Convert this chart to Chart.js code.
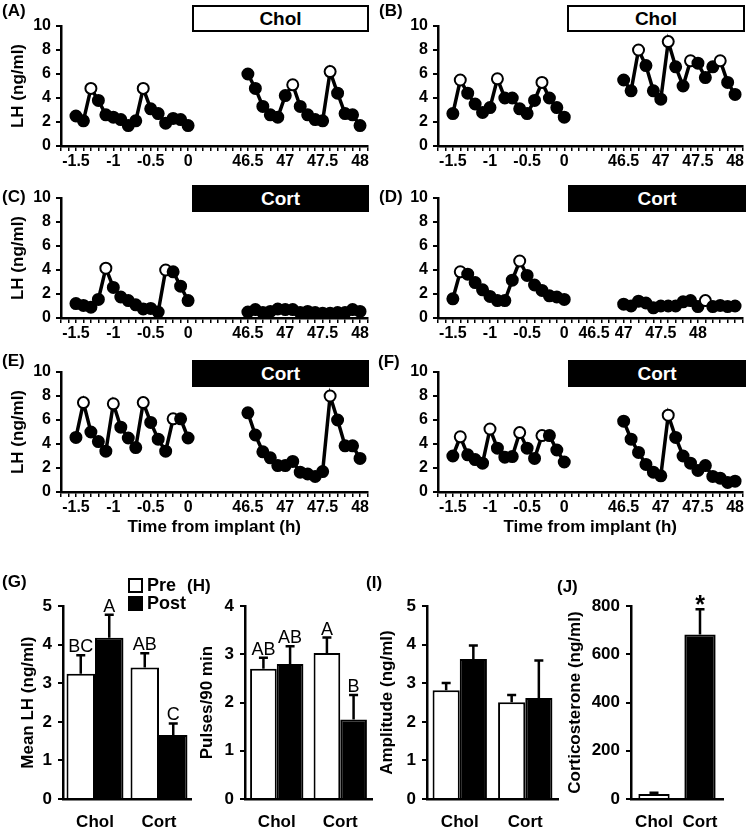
<!DOCTYPE html>
<html>
<head>
<meta charset="utf-8">
<script src="https://cdn.jsdelivr.net/npm/chart.js@4.4.1/dist/chart.umd.min.js"></script>
<style>
  body { margin: 0; background: #fff; font-family: "Liberation Sans", Arial, sans-serif; }
  #fig { position: relative; width: 750px; height: 832px; overflow: hidden; background: #fff; }
  canvas { position: absolute; }
  .lab { position: absolute; font-weight: bold; font-size: 17px; color: #000; }
  .box { position: absolute; box-sizing: border-box; height: 27px; border: 2px solid #000; background: #fff;
         font-weight: bold; font-size: 19px; line-height: 23px; text-align: center; color: #000; }
  .box.dark { background: #000; color: #fff; }
  .sq { position: absolute; box-sizing: border-box; width: 15px; height: 15px; border: 2px solid #000; }
  .leg { position: absolute; font-weight: bold; font-size: 18px; }
</style>
</head>
<body>
<div id="fig">
  <canvas id="cA" width="375" height="172" style="left:0;top:0"></canvas>
  <canvas id="cB" width="375" height="172" style="left:375px;top:0"></canvas>
  <canvas id="cC" width="375" height="172" style="left:0;top:172px"></canvas>
  <canvas id="cD" width="375" height="172" style="left:375px;top:172px"></canvas>
  <canvas id="cE" width="375" height="192" style="left:0;top:346px"></canvas>
  <canvas id="cF" width="375" height="192" style="left:375px;top:346px"></canvas>
  <canvas id="cG" width="195" height="242" style="left:0;top:590px"></canvas>
  <canvas id="cH" width="185" height="242" style="left:190px;top:590px"></canvas>
  <canvas id="cI" width="190" height="242" style="left:373px;top:590px"></canvas>
  <canvas id="cJ" width="190" height="242" style="left:560px;top:590px"></canvas>

  <div class="box" style="left:192px;top:5px;width:177px">Chol</div>
  <div class="box" style="left:567px;top:5px;width:178px">Chol</div>
  <div class="box dark" style="left:192px;top:185px;width:177px">Cort</div>
  <div class="box dark" style="left:568px;top:185px;width:178px">Cort</div>
  <div class="box dark" style="left:192px;top:360px;width:177px">Cort</div>
  <div class="box dark" style="left:568px;top:360px;width:178px">Cort</div>

  <div class="lab" style="left:2px;top:1px">(A)</div>
  <div class="lab" style="left:379px;top:1px">(B)</div>
  <div class="lab" style="left:2px;top:187px">(C)</div>
  <div class="lab" style="left:379px;top:187px">(D)</div>
  <div class="lab" style="left:2px;top:351px">(E)</div>
  <div class="lab" style="left:378px;top:352px">(F)</div>
  <div class="lab" style="left:2px;top:572px">(G)</div>
  <div class="lab" style="left:187px;top:576px">(H)</div>
  <div class="lab" style="left:366px;top:573px">(I)</div>
  <div class="lab" style="left:557px;top:577px">(J)</div>

  <div class="sq" style="left:128px;top:578px;background:#fff"></div>
  <div class="leg" style="left:147px;top:575px">Pre</div>
  <div class="sq" style="left:128px;top:596px;background:#000"></div>
  <div class="leg" style="left:147px;top:593px">Post</div>
</div>

<script>
// LH pulse profiles, 6 min sampling, 16 samples before and 16 samples 46.5-48 h after implant
const aPre  = [2.5, 2.1, 4.8, 3.8, 2.6, 2.4, 2.2, 1.7, 2.1, 4.8, 3.1, 2.7, 1.9, 2.3, 2.2, 1.7];
const aPost = [6.0, 4.8, 3.3, 2.6, 2.4, 4.2, 5.1, 3.3, 2.6, 2.2, 2.1, 6.2, 4.4, 2.7, 2.6, 1.7];
const aPrePeaks = [2, 9], aPostPeaks = [6, 11];

const bPre  = [2.7, 5.5, 4.4, 3.5, 2.8, 3.2, 5.6, 4.0, 4.0, 3.1, 2.7, 3.8, 5.3, 4.0, 3.2, 2.4];
const bPost = [5.5, 4.6, 8.0, 6.7, 4.6, 3.9, 8.7, 6.6, 5.0, 7.1, 6.9, 5.7, 6.6, 7.1, 5.3, 4.3];
const bPrePeaks = [1, 6, 12], bPostPeaks = [2, 6, 9, 13];

const cPre  = [1.2, 1.05, 0.9, 1.55, 4.15, 2.55, 1.75, 1.45, 1.1, 0.75, 0.8, 0.5, 4.0, 3.85, 2.65, 1.45];
const cPost = [0.5, 0.7, 0.45, 0.55, 0.75, 0.7, 0.7, 0.45, 0.55, 0.45, 0.4, 0.4, 0.45, 0.45, 0.7, 0.55];
const cPrePeaks = [4, 12], cPostPeaks = [];

const dPre  = [1.6, 3.85, 3.65, 2.95, 2.35, 1.8, 1.45, 1.45, 3.15, 4.75, 3.55, 2.75, 2.3, 1.85, 1.75, 1.55];
const dPost = [1.15, 1.0, 1.4, 1.25, 0.85, 1.0, 1.0, 1.0, 1.35, 1.45, 0.95, 1.45, 0.95, 1.05, 0.95, 1.0];
const dPrePeaks = [1, 9], dPostPeaks = [11];

const ePre  = [4.55, 7.45, 5.0, 4.2, 3.4, 7.35, 5.4, 4.5, 3.7, 7.45, 5.8, 4.4, 3.4, 6.1, 6.1, 4.5];
const ePost = [6.6, 4.75, 3.35, 2.85, 2.2, 2.2, 2.55, 1.65, 1.5, 1.3, 1.7, 8.0, 6.0, 3.85, 3.85, 2.8];
const ePrePeaks = [1, 5, 9, 13], ePostPeaks = [11];

const fPre  = [3.0, 4.6, 3.1, 2.7, 2.4, 5.25, 3.65, 2.9, 2.95, 4.95, 3.65, 2.8, 4.7, 4.7, 3.5, 2.5];
const fPost = [5.9, 4.4, 3.3, 2.3, 1.65, 1.35, 6.4, 4.55, 3.0, 2.4, 1.8, 2.2, 1.3, 1.15, 0.8, 0.9];
const fPrePeaks = [1, 5, 9, 12], fPostPeaks = [6];

// x axis: category slots, 2 blank slots first, gap between pre and post
const timeLabels = ['-1.5', '-1', '-0.5', '0', '46.5', '47', '47.5', '48'];
const tickSlots  = [2, 7, 12, 17, 25, 30, 35, 40];
const dTickSlots = [2, 7, 12, 17, 21, 25, 30, 35];   // panel D labels sit shifted
const NCAT = 42, PRE0 = 2, POST0 = 25;

// summary bars
const groups = ['Chol', 'Cort'];
const gPre = [3.25, 3.41], gPreErr = [0.48, 0.37], gPost = [4.18, 1.66], gPostErr = [0.6, 0.3];
const gPreLetters = ['BC', 'AB'], gPostLetters = ['A', 'C'];
const hPre = [2.70, 3.03], hPreErr = [0.23, 0.32], hPost = [2.80, 1.65], hPostErr = [0.37, 0.51];
const hPreLetters = ['AB', 'A'], hPostLetters = ['AB', 'B'];
const iPre = [2.82, 2.51], iPreErr = [0.19, 0.19], iPost = [3.63, 2.62], iPostErr = [0.35, 0.97];
const jVal = [21, 683], jErr = [5, 104], jLetters = ['', '*'];

const FONT = '"Liberation Sans", Arial, sans-serif';
Chart.defaults.font.family = FONT;
Chart.defaults.color = '#000';

function buildLabels(slots) {
  const labels = new Array(NCAT).fill('');
  slots.forEach((s, i) => labels[s] = timeLabels[i]);
  return labels;
}

function buildSeries(pre, post) {
  const d = new Array(NCAT).fill(null);
  pre.forEach((v, i) => d[PRE0 + i] = v);
  post.forEach((v, i) => d[POST0 + i] = v);
  return d;
}

function buildFill(prePeaks, postPeaks) {
  const f = new Array(NCAT).fill('#000');
  prePeaks.forEach(i => f[PRE0 + i] = '#fff');
  postPeaks.forEach(i => f[POST0 + i] = '#fff');
  return f;
}

function lineChart(id, pre, post, prePeaks, postPeaks, slots, o) {
  new Chart(document.getElementById(id), {
    type: 'line',
    data: {
      labels: buildLabels(slots),
      datasets: [{
        data: buildSeries(pre, post),
        borderColor: '#000',
        borderWidth: 3.5,
        tension: 0,
        spanGaps: false,
        pointRadius: 5.5,
        pointHoverRadius: 5.5,
        pointBorderWidth: 2,
        pointBorderColor: '#000',
        pointBackgroundColor: buildFill(prePeaks, postPeaks)
      }]
    },
    options: {
      responsive: false,
      animation: false,
      devicePixelRatio: 1,
      layout: { padding: { left: o.padLeft, right: o.padRight, top: 26, bottom: 0 } },
      plugins: { legend: { display: false }, tooltip: { enabled: false } },
      scales: {
        x: {
          type: 'category',
          offset: false,
          grid: { display: true, drawOnChartArea: false, color: '#000', lineWidth: 1.5, tickLength: 5 },
          border: { display: true, color: '#000', width: 2.5 },
          ticks: { autoSkip: false, maxRotation: 0, padding: 1, font: { size: 16, weight: 'bold' } },
          title: {
            display: !!o.xTitle,
            text: 'Time from implant (h)',
            padding: { top: 2, bottom: 0 },
            font: { size: 17, weight: 'bold' }
          },
          afterFit: s => { s.height = o.xH; }
        },
        y: {
          min: 0, max: 10,
          grid: { display: true, drawOnChartArea: false, color: '#000', lineWidth: 2, tickLength: 5 },
          border: { display: true, color: '#000', width: 2.5 },
          ticks: { stepSize: 2, padding: 5, font: { size: 16, weight: 'bold' } },
          title: {
            display: !!o.yTitle,
            text: 'LH (ng/ml)',
            padding: 0,
            font: { size: 17, weight: 'bold' }
          },
          afterFit: s => { s.width = o.yW; }
        }
      }
    }
  });
}

const left = { padLeft: 8, yW: 53, padRight: 6, yTitle: true };
const right = { padLeft: 0, yW: 63, padRight: 5, yTitle: false };

lineChart('cA', aPre, aPost, aPrePeaks, aPostPeaks, tickSlots, { ...left, xH: 26 });
lineChart('cB', bPre, bPost, bPrePeaks, bPostPeaks, tickSlots, { ...right, xH: 26 });
lineChart('cC', cPre, cPost, cPrePeaks, cPostPeaks, tickSlots, { ...left, xH: 26 });
lineChart('cD', dPre, dPost, dPrePeaks, dPostPeaks, dTickSlots, { ...right, xH: 26 });
lineChart('cE', ePre, ePost, ePrePeaks, ePostPeaks, tickSlots, { ...left, xH: 46, xTitle: true });
lineChart('cF', fPre, fPost, fPrePeaks, fPostPeaks, tickSlots, { ...right, xH: 46, xTitle: true });

// upward error bars with caps, plus letters above them
const errorBars = {
  id: 'errorBars',
  afterDatasetsDraw(chart, args, opts) {
    const ctx = chart.ctx;
    const y = chart.scales.y;
    chart.data.datasets.forEach((ds, di) => {
      chart.getDatasetMeta(di).data.forEach((bar, i) => {
        const top = y.getPixelForValue(ds.data[i] + ds.errors[i]);
        ctx.save();
        ctx.strokeStyle = '#000';
        ctx.lineWidth = 2.5;
        ctx.beginPath();
        ctx.moveTo(bar.x, bar.y);
        ctx.lineTo(bar.x, top);
        ctx.moveTo(bar.x - 4.5, top);
        ctx.lineTo(bar.x + 4.5, top);
        ctx.stroke();
        const t = ds.letters ? ds.letters[i] : '';
        if (t) {
          ctx.fillStyle = '#000';
          ctx.font = opts.font;
          ctx.textAlign = 'center';
          ctx.textBaseline = 'alphabetic';
          ctx.fillText(t, bar.x, top + opts.dy);
        }
        ctx.restore();
      });
    });
  }
};

function barChart(id, datasets, o) {
  new Chart(document.getElementById(id), {
    type: 'bar',
    data: { labels: groups, datasets },
    plugins: [errorBars],
    options: {
      responsive: false,
      animation: false,
      devicePixelRatio: 1,
      layout: { padding: { left: o.padLeft, right: o.padRight, top: 9, bottom: 0 } },
      plugins: {
        legend: { display: false },
        tooltip: { enabled: false },
        errorBars: { font: o.letterFont || ('18px ' + FONT), dy: o.dy === undefined ? -3 : o.dy }
      },
      scales: {
        x: {
          grid: { display: false, drawTicks: false },
          border: { display: true, color: '#000', width: 2.5 },
          ticks: { padding: 13, font: { size: 17, weight: 'bold' } },
          afterFit: s => { s.height = 33; }
        },
        y: {
          min: 0, max: o.max,
          grid: { display: true, drawOnChartArea: false, color: '#000', lineWidth: 2, tickLength: 5 },
          border: { display: true, color: '#000', width: 2.5 },
          ticks: { stepSize: o.step, padding: 6, font: { size: 17, weight: 'bold' } },
          title: { display: true, text: o.title, padding: 0, font: { size: 17, weight: 'bold' } },
          afterFit: s => { s.width = o.yW; }
        }
      }
    }
  });
}

function prePost(pre, preErr, post, postErr, pct, preLetters, postLetters) {
  return [
    { data: pre, errors: preErr, letters: preLetters, backgroundColor: '#fff', borderColor: '#000',
      borderWidth: 2, barPercentage: 1, categoryPercentage: pct },
    { data: post, errors: postErr, letters: postLetters, backgroundColor: '#000', borderColor: '#000',
      borderWidth: 2, barPercentage: 1, categoryPercentage: pct }
  ];
}

barChart('cG', prePost(gPre, gPreErr, gPost, gPostErr, 0.89, gPreLetters, gPostLetters),
  { padLeft: 18, yW: 45, padRight: 4, max: 5, step: 1, title: 'Mean LH (ng/ml)' });
barChart('cH', prePost(hPre, hPreErr, hPost, hPostErr, 0.84, hPreLetters, hPostLetters),
  { padLeft: 7, yW: 48, padRight: 3, max: 4, step: 1, title: 'Pulses/90 min' });
barChart('cI', prePost(iPre, iPreErr, iPost, iPostErr, 0.83),
  { padLeft: 4, yW: 50, padRight: 5, max: 5, step: 1, title: 'Amplitude (ng/ml)' });
barChart('cJ', [{
    data: jVal, errors: jErr, letters: jLetters,
    backgroundColor: ['#fff', '#000'], borderColor: '#000', borderWidth: 2,
    barPercentage: 1, categoryPercentage: 0.68
  }],
  { padLeft: 5, yW: 66, padRight: 27, max: 800, step: 200, title: 'Corticosterone (ng/ml)',
    letterFont: 'bold 25px ' + FONT, dy: 4 });
</script>
</body>
</html>
